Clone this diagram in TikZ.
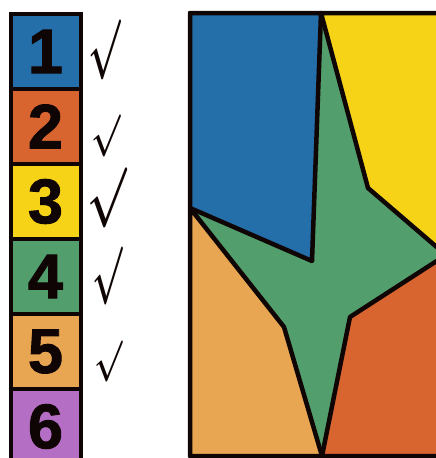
\documentclass[tikz,border=0pt]{standalone}
\usepackage{graphicx}
\usepackage{fontspec}
\setmainfont{Liberation Sans}
\newfontfamily\numfont[FakeBold=1.5]{Liberation Sans Bold}
\usetikzlibrary{positioning}

\definecolor{cblue}{HTML}{246EAA}
\definecolor{corange}{HTML}{D8652F}
\definecolor{cyellow}{HTML}{F6D317}
\definecolor{cgreen}{HTML}{529E6C}
\definecolor{clight}{HTML}{E8A652}
\definecolor{cpurple}{HTML}{B46EC4}
\definecolor{cline}{HTML}{100505}

\newcommand{\tickmark}[2]{\resizebox*{#1}{#2}{\boldmath$\surd$}}

\begin{document}
\begin{tikzpicture}[x=1pt, y=-1pt, node distance=0pt,
        numbox/.style={rectangle, draw=cline, line width=4pt, minimum width=70pt, minimum height=75pt,
            inner sep=0pt, outer sep=0pt, text=cline, font=\fontsize{63}{63}\numfont},
        tick/.style={inner sep=0pt, text=cline},
        region/.style={draw=cline, line width=4.5pt, line join=round}]
    \useasboundingbox (0,0) rectangle (436,458);
    \clip (0,0) rectangle (436,458);

    % colour list
    \node [numbox, fill=cblue] (n1) at (45.5,51.5) {1};
    \node [numbox, fill=corange, below=of n1] (n2) {2};
    \node [numbox, fill=cyellow, below=of n2] (n3) {3};
    \node [numbox, fill=cgreen, below=of n3] (n4) {4};
    \node [numbox, fill=clight, below=of n4] (n5) {5};
    \node [numbox, fill=cpurple, below=of n5] (n6) {6};

    \node [tick, right=8pt of n1, yshift=1.5pt] (c1) {\tickmark{32pt}{60pt}};
    \node [tick, right=11pt of n2, yshift=-9.5pt] (c2) {\tickmark{29pt}{42pt}};
    \node [tick, right=7pt of n3, yshift=3.5pt] (c3) {\tickmark{39pt}{60pt}};
    \node [tick, right=12pt of n4, yshift=0.5pt] (c4) {\tickmark{30pt}{58pt}};
    \node [tick, right=14pt of n5, yshift=-10pt] (c5) {\tickmark{28pt}{41pt}};

    % map
    \coordinate (tl) at (190,13);
    \coordinate (br) at (446,456);
    \coordinate (top) at (321,13);
    \coordinate (west) at (190,208);
    \coordinate (east) at (446,255);
    \coordinate (bot) at (322,456);
    \fill [cgreen] (tl) rectangle (br);
    \path [region, fill=cblue] (tl) -- (top) -- (312,261) -- (west) -- cycle;
    \path [region, fill=cyellow] (top) -- (446,13) -- (east) -- (368,188) -- cycle;
    \path [region, fill=corange] (east) -- (446,456) -- (bot) -- (350,317) -- cycle;
    \path [region, fill=clight] (west) -- (284,327) -- (bot) -- (190,456) -- cycle;
    \draw [region] (tl) rectangle (br);
\end{tikzpicture}
\end{document}
